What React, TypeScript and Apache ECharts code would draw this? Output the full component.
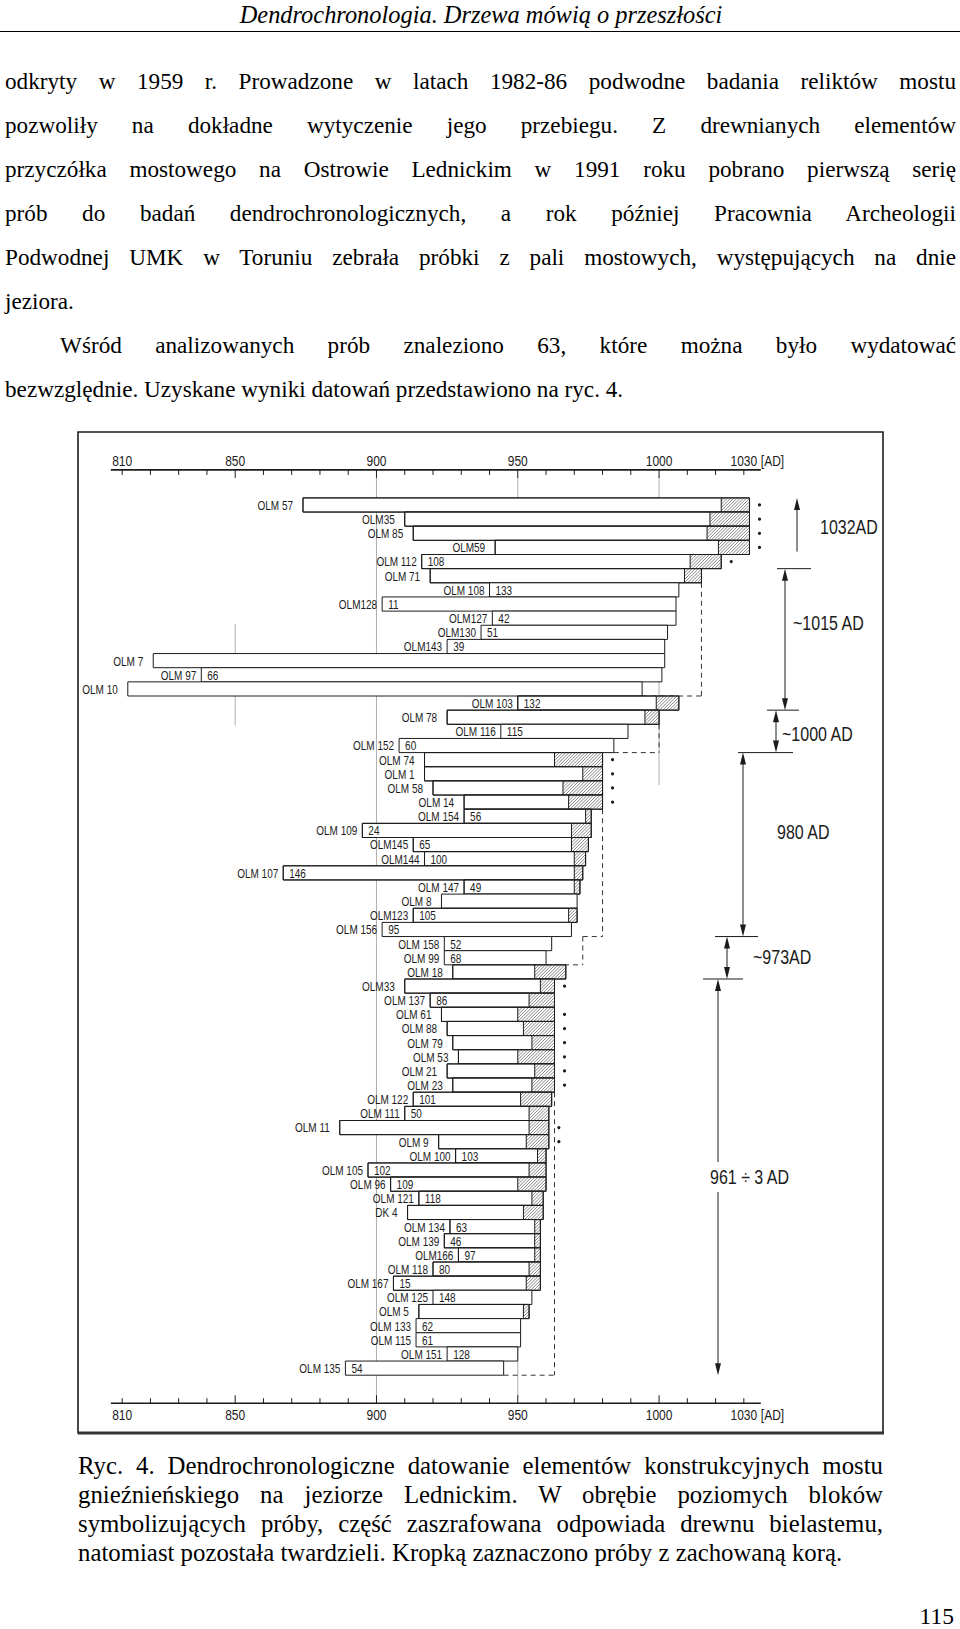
import React, { useEffect, useRef } from "react";
import * as echarts from "echarts";

// ---------------- DATA ----------------
const sampleNames = [
  "OLM 57", "OLM35", "OLM 85", "OLM59", "OLM 112", "OLM 71", "OLM 108", "OLM128", "OLM127", "OLM130",
  "OLM143", "OLM 7", "OLM 97", "OLM 10", "OLM 103", "OLM 78", "OLM 116", "OLM 152", "OLM 74", "OLM 1",
  "OLM 58", "OLM 14", "OLM 154", "OLM 109", "OLM145", "OLM144", "OLM 107", "OLM 147", "OLM 8", "OLM123",
  "OLM 156", "OLM 158", "OLM 99", "OLM 18", "OLM33", "OLM 137", "OLM 61", "OLM 88", "OLM 79", "OLM 53",
  "OLM 21", "OLM 23", "OLM 122", "OLM 111", "OLM 11", "OLM 9", "OLM 100", "OLM 105", "OLM 96", "OLM 121",
  "DK 4", "OLM 134", "OLM 139", "OLM166", "OLM 118", "OLM 167", "OLM 125", "OLM 5", "OLM 133", "OLM 115",
  "OLM 151", "OLM 135",
];

const numberLabels: (number | null)[] = [
  null, null, null, null, 108, null, 133, 11, 42, 51,
  39, null, 66, null, 132, null, 115, 60, null, null,
  null, null, 56, 24, 65, 100, 146, 49, null, 105,
  95, 52, 68, null, null, 86, null, null, null, null,
  null, null, 101, 50, null, null, 103, 102, 109, 118,
  null, 63, 46, 97, 80, 15, 148, null, 62, 61,
  128, 54,
];

const startYears = [
  874, 910, 913, 942, 916, 919, 940, 902, 941, 937,
  925, 821, 838, 812, 950, 925, 944, 908, 917, 917,
  920, 931, 931, 895, 913, 917, 867, 931, 923, 913,
  902, 924, 924, 927, 910, 919, 923, 925, 927, 929,
  925, 927, 913, 910, 887, 922, 928, 897, 905, 915,
  911, 926, 924, 929, 920, 906, 920, 915, 914, 914,
  925, 889,
];

const sapwoodYears: (number | null)[] = [
  1022, 1018, 1017, 1021, 1011, 1009, null, null, null, null,
  null, null, null, null, 999, 995, null, null, 963, 973,
  966, 968, 974, 969, 969, 970, 970, 970, null, 968,
  null, null, null, 956, 958, 954, 950, 952, 955, 950,
  956, 955, 951, 954, 954, 953, 957, 954, 950, 955,
  952, 956, 956, 956, 954, 953, null, 952, null, null,
  null, null,
];

const endYears = [
  1032, 1032, 1032, 1032, 1022, 1015, 1007, 1006, 1006, 1003,
  1002, 1002, 1001, 994, 1007, 1000, 989, 984, 980, 980,
  980, 980, 976, 976, 975, 974, 973, 972, 971, 971,
  969, 962, 960, 967, 963, 963, 963, 963, 963, 963,
  963, 963, 962, 961, 961, 961, 960, 960, 960, 959,
  959, 958, 958, 958, 958, 958, 955, 954, 951, 951,
  950, 945,
];

const barkRows = [0, 1, 2, 3, 4, 18, 19, 20, 21, 34, 36, 37, 38, 39, 40, 41, 44, 45];

const axisTicks = [810, 820, 830, 840, 850, 860, 870, 880, 890, 900, 910, 920, 930, 940, 950, 960, 970, 980, 990, 1000, 1010, 1020, 1030];
const axisMajorTicks = [850, 900, 950, 1000];
const axisLabelYears = [810, 850, 900, 950, 1000, 1030];
const axisUnit = "[AD]";
const axisExtent = [806, 1036];

// estimated felling: felling year, first row, last row, last ring year of last row
const fellingYears = [1015, 1000, 980, 973, 963];
const fellingFromRows = [5, 15, 21, 30, 41];
const fellingToRows = [13, 17, 30, 32, 61];
const fellingLastRings = [994, 984, 973, 960, 945];

// grid reference lines: year, row-from, row-to
const gridYears = [850, 900, 950, 1000];
const gridFrom = [8.4, -2.0, -2.0, -2.0];
const gridTo = [15.6, 63.0, 63.0, 19.8];

// dating groups on the right
const groupLabels = ["1032AD", "~1015 AD", "~1000 AD", "980 AD", "~973AD", "961 ÷ 3 AD"];
const groupFromEdge = [-0.5, 4.5, 14.5, 17.5, 30.5, 33.5];
const groupToEdge = [4.5, 14.5, 17.5, 30.5, 33.5, 61.5];

// ---------------- TEXT ----------------
const headerText = "Dendrochronologia. Drzewa mówią o przeszłości";
const bodyLines = [
  "odkryty w 1959 r. Prowadzone w latach 1982-86 podwodne badania reliktów mostu",
  "pozwoliły na dokładne wytyczenie jego przebiegu. Z drewnianych elementów",
  "przyczółka mostowego na Ostrowie Lednickim w 1991 roku pobrano pierwszą serię",
  "prób do badań dendrochronologicznych, a rok później Pracownia Archeologii",
  "Podwodnej UMK w Toruniu zebrała próbki z pali mostowych, występujących na dnie",
  "jeziora.",
  "Wśród analizowanych prób znaleziono 63, które można było wydatować",
  "bezwzględnie. Uzyskane wyniki datowań przedstawiono na ryc. 4.",
];
const captionLines = [
  "Ryc. 4. Dendrochronologiczne datowanie elementów konstrukcyjnych mostu",
  "gnieźnieńskiego na jeziorze Lednickim. W obrębie poziomych bloków",
  "symbolizujących próby, część zaszrafowana odpowiada drewnu bielastemu,",
  "natomiast pozostała twardzieli. Kropką zaznaczono próby z zachowaną korą.",
];
const pageNumber = "115";

// ---------------- STYLE / LAYOUT ----------------
const INK = "#1c1c1c";
const TECH = "'Liberation Sans', Arial, sans-serif";
const NARROW = 0.8;
const SERIF = "'Liberation Serif', 'Times New Roman', serif";
const AXIS_OFFSET = 28;
const groupArrowX = [797, 785, 776, 743, 727, 718];
const groupTickX = [[777, 811], [767, 799], [738, 793], [715, 758], [703, 743], null];
const groupTextPos = [[820, 527], [793, 623], [782, 734], [777, 832], [753, 957], [710, 1177]];

function hatchSegments(x0: number, y0: number, x1: number, y1: number, step: number) {
  const segs: any[] = [];
  let k = Math.ceil((x0 + y0) / step) * step;
  for (; k < x1 + y1; k += step) {
    const xa = Math.max(x0, k - y1);
    const xb = Math.min(x1, k - y0);
    if (xb > xa + 0.2) segs.push({ x1: xa, y1: k - xa, x2: xb, y2: k - xb });
  }
  return segs;
}

function arrowHead(x: number, y: number, dir: number) {
  const L = 12, W = 3;
  return {
    type: "polygon",
    shape: { points: [[x, y], [x - W, y - dir * L], [x + W, y - dir * L]] },
    style: { fill: INK },
  };
}

function techText(x: number, y: number, text: string, size: number, align: string) {
  return {
    type: "text",
    x,
    y,
    scaleX: NARROW,
    style: { text, align, verticalAlign: "middle", fontSize: size, fontFamily: TECH, fill: INK },
  };
}

function buildOption() {
  const sampleData = startYears.map((s, i) => [s, i, endYears[i]]);

  const renderSample = (params: any, api: any) => {
    const i = params.dataIndex;
    const start = api.value(0);
    const end = api.value(2);
    const sap = sapwoodYears[i];
    const p0 = api.coord([start, i]);
    const p1 = api.coord([end, i]);
    const bh = Math.abs(api.size([0, 1])[1]);
    const yTop = p0[1] - bh / 2;
    const yBot = p0[1] + bh / 2;
    const ch: any[] = [];
    ch.push({
      type: "rect",
      shape: { x: p0[0], y: yTop, width: p1[0] - p0[0], height: bh },
      style: { fill: "#fff", stroke: INK, lineWidth: 1 },
    });
    if (sap != null) {
      const xs = api.coord([sap, i])[0];
      hatchSegments(xs, yTop, p1[0], yBot, 3.2).forEach((s) =>
        ch.push({ type: "line", shape: s, style: { stroke: "#555", lineWidth: 0.7 } })
      );
      ch.push({ type: "line", shape: { x1: xs, y1: yTop, x2: xs, y2: yBot }, style: { stroke: INK, lineWidth: 1 } });
      ch.push({
        type: "rect",
        shape: { x: p0[0], y: yTop, width: p1[0] - p0[0], height: bh },
        style: { fill: "none", stroke: INK, lineWidth: 1 },
      });
    }
    const num = numberLabels[i];
    ch.push(techText(p0[0] - (num != null ? 5 : 10), p0[1] + 0.5, sampleNames[i], 12.5, "right"));
    if (num != null) ch.push(techText(p0[0] + 6, p0[1] + 0.5, String(num), 12.5, "left"));
    if (barkRows.indexOf(i) >= 0) {
      ch.push({ type: "circle", shape: { cx: p1[0] + 10, cy: p0[1], r: 1.6 }, style: { fill: INK } });
    }
    return { type: "group", children: ch };
  };

  const renderGrid = (params: any, api: any) => {
    const a = api.coord([api.value(0), api.value(1)]);
    const b = api.coord([api.value(0), api.value(2)]);
    return {
      type: "line",
      shape: { x1: a[0], y1: a[1], x2: b[0], y2: b[1] },
      style: { stroke: "#9a9a9a", lineWidth: 0.8 },
    };
  };

  const renderAxisLine = (params: any, api: any) => {
    const a = api.coord([api.value(0), -0.5]);
    const b = api.coord([api.value(1), 61.5]);
    const yT = a[1] - AXIS_OFFSET;
    const yB = b[1] + AXIS_OFFSET;
    return {
      type: "group",
      children: [
        { type: "line", shape: { x1: a[0], y1: yT, x2: b[0], y2: yT }, style: { stroke: INK, lineWidth: 1.6 } },
        { type: "line", shape: { x1: a[0], y1: yB, x2: b[0], y2: yB }, style: { stroke: INK, lineWidth: 1.6 } },
      ],
    };
  };

  const renderTick = (params: any, api: any) => {
    const t = api.value(0);
    const x = api.coord([t, 0])[0];
    const yT = api.coord([t, -0.5])[1] - AXIS_OFFSET;
    const yB = api.coord([t, 61.5])[1] + AXIS_OFFSET;
    const len = axisMajorTicks.indexOf(t) >= 0 ? 8 : 5;
    const ch: any[] = [
      { type: "line", shape: { x1: x, y1: yT, x2: x, y2: yT + len }, style: { stroke: INK, lineWidth: 1 } },
      { type: "line", shape: { x1: x, y1: yB, x2: x, y2: yB - len }, style: { stroke: INK, lineWidth: 1 } },
    ];
    if (axisLabelYears.indexOf(t) >= 0) {
      ch.push(techText(x, yT - 9, String(t), 15, "center"));
      ch.push(techText(x, yB + 12, String(t), 15, "center"));
      if (t === axisLabelYears[axisLabelYears.length - 1]) {
        ch.push(techText(x + 17, yT - 9, axisUnit, 15, "left"));
        ch.push(techText(x + 17, yB + 12, axisUnit, 15, "left"));
      }
    }
    return { type: "group", children: ch };
  };

  const renderFelling = (params: any, api: any) => {
    const yr = api.value(0);
    const xV = api.coord([yr, 0])[0];
    const yA = api.coord([yr, api.value(1) + 0.5])[1];
    const yB = api.coord([yr, api.value(2) + 0.5])[1];
    const xL = api.coord([api.value(3), 0])[0];
    const st = { stroke: "#333", lineWidth: 1, lineDash: [5, 4] };
    return {
      type: "group",
      children: [
        { type: "line", shape: { x1: xV, y1: yA, x2: xV, y2: yB }, style: st },
        { type: "line", shape: { x1: xL, y1: yB, x2: xV, y2: yB }, style: st },
      ],
    };
  };

  const renderGroup = (params: any, api: any) => {
    const g = params.dataIndex;
    const yA = api.coord([0, api.value(1)])[1];
    const yB = api.coord([0, api.value(2)])[1];
    const x = groupArrowX[g];
    const ln = { stroke: INK, lineWidth: 1 };
    const ch: any[] = [];
    const [tx, ty] = groupTextPos[g];
    if (g === 0) {
      const yStart = yB - 17;
      ch.push({ type: "line", shape: { x1: x, y1: yStart, x2: x, y2: yA + 6 }, style: ln });
      ch.push(arrowHead(x, yA, -1));
    } else if (g === groupLabels.length - 1) {
      ch.push({ type: "line", shape: { x1: x, y1: yA + 6, x2: x, y2: ty - 15 }, style: ln });
      ch.push({ type: "line", shape: { x1: x, y1: ty + 15, x2: x, y2: yB - 6 }, style: ln });
      ch.push(arrowHead(x, yA, -1));
      ch.push(arrowHead(x, yB, 1));
    } else {
      ch.push({ type: "line", shape: { x1: x, y1: yA + 6, x2: x, y2: yB - 6 }, style: ln });
      ch.push(arrowHead(x, yA, -1));
      ch.push(arrowHead(x, yB, 1));
    }
    const tk = groupTickX[g];
    if (tk) ch.push({ type: "line", shape: { x1: tk[0], y1: yB, x2: tk[1], y2: yB }, style: ln });
    ch.push(techText(tx, ty, groupLabels[g], 20, "left"));
    return { type: "group", children: ch };
  };

  return {
    animation: false,
    grid: { left: 93.9, top: 497.9, width: 678.2, height: 877.3, containLabel: false },
    xAxis: { type: "value", min: 800, max: 1040, show: false },
    yAxis: { type: "value", min: -0.5, max: 61.5, inverse: true, show: false },
    graphic: [
      {
        type: "rect",
        shape: { x: 78, y: 432, width: 805, height: 1001 },
        style: { fill: "none", stroke: INK, lineWidth: 1.6 },
        z: 0,
      },
      {
        type: "line",
        shape: { x1: 78, y1: 1433, x2: 884, y2: 1433 },
        style: { stroke: "#333", lineWidth: 3 },
      },
    ],
    series: [
      {
        type: "custom",
        name: "grid",
        z: 1,
        data: gridYears.map((y, i) => [y, gridFrom[i], gridTo[i]]),
        encode: { x: 0, y: [1, 2] },
        renderItem: renderGrid,
      },
      {
        type: "custom",
        name: "axisLine",
        z: 2,
        data: [[axisExtent[0], axisExtent[1]]],
        encode: { x: [0, 1] },
        renderItem: renderAxisLine,
      },
      {
        type: "custom",
        name: "ticks",
        z: 2,
        data: axisTicks.map((t) => [t, 0]),
        encode: { x: 0, y: 1 },
        renderItem: renderTick,
      },
      {
        type: "custom",
        name: "felling",
        z: 2,
        data: fellingYears.map((y, i) => [y, fellingFromRows[i], fellingToRows[i], fellingLastRings[i]]),
        encode: { x: 0, y: [1, 2] },
        renderItem: renderFelling,
      },
      {
        type: "custom",
        name: "samples",
        z: 3,
        data: sampleData,
        encode: { x: [0, 2], y: 1 },
        renderItem: renderSample,
      },
      {
        type: "custom",
        name: "groups",
        z: 4,
        data: groupLabels.map((_, i) => [1040, groupFromEdge[i], groupToEdge[i]]),
        encode: { x: 0, y: [1, 2] },
        renderItem: renderGroup,
      },
    ],
  };
}

function TextLine(props: { text: string; left: number; width: number; cy: number; size: number; justify: boolean; lh: number }) {
  const { text, left, width, cy, size, justify, lh } = props;
  return (
    <div
      style={{
        position: "absolute",
        left,
        top: cy - lh / 2,
        width,
        height: lh,
        lineHeight: lh + "px",
        fontSize: size,
        fontFamily: SERIF,
        color: "#000",
        textAlign: justify ? "justify" : "left",
        textAlignLast: justify ? "justify" : "left",
      } as any}
    >
      {text}
    </div>
  );
}

export default function App() {
  const ref = useRef<HTMLDivElement>(null);
  useEffect(() => {
    if (!ref.current) return;
    const chart = echarts.init(ref.current, undefined, { renderer: "svg" });
    chart.setOption(buildOption() as any);
    return () => chart.dispose();
  }, []);

  const bodyY0 = 81;
  const bodyStep = 44;
  const bodySize = 23.2;
  const capY0 = 1465;
  const capStep = 29;
  const capSize = 24.8;

  return (
    <div style={{ position: "absolute", left: 0, top: 0, width: 960, height: 1629, background: "#fff", overflow: "hidden" }}>
      <div ref={ref} style={{ position: "absolute", left: 0, top: 0, width: 960, height: 1629 }} />
      <div style={{ position: "absolute", left: 0, top: 0, width: 960, height: 1629, pointerEvents: "none", zIndex: 2 }}>
        <div
          style={{
            position: "absolute",
            left: 0,
            top: 0,
            width: 962,
            height: 29,
            lineHeight: "29px",
            textAlign: "center",
            fontStyle: "italic",
            fontSize: 24.4,
            fontFamily: SERIF,
          }}
        >
          {headerText}
        </div>
        <div style={{ position: "absolute", left: 0, top: 31, width: 960, height: 1, background: "#000" }} />
        {bodyLines.map((t, i) => {
          const indent = i === 6 ? 60 : 5;
          const justify = !(i === 5 || i === 7);
          return (
            <TextLine key={"b" + i} text={t} left={indent} width={956 - indent} cy={bodyY0 + i * bodyStep} size={bodySize} justify={justify} lh={30} />
          );
        })}
        {captionLines.map((t, i) => (
          <TextLine key={"c" + i} text={t} left={78} width={805} cy={capY0 + i * capStep} size={capSize} justify={i < 3} lh={29} />
        ))}
        <div
          style={{
            position: "absolute",
            left: 910,
            width: 44,
            top: 1604,
            height: 24,
            lineHeight: "24px",
            textAlign: "right",
            fontSize: 23.5,
            fontFamily: SERIF,
          }}
        >
          {pageNumber}
        </div>
      </div>
    </div>
  );
}
